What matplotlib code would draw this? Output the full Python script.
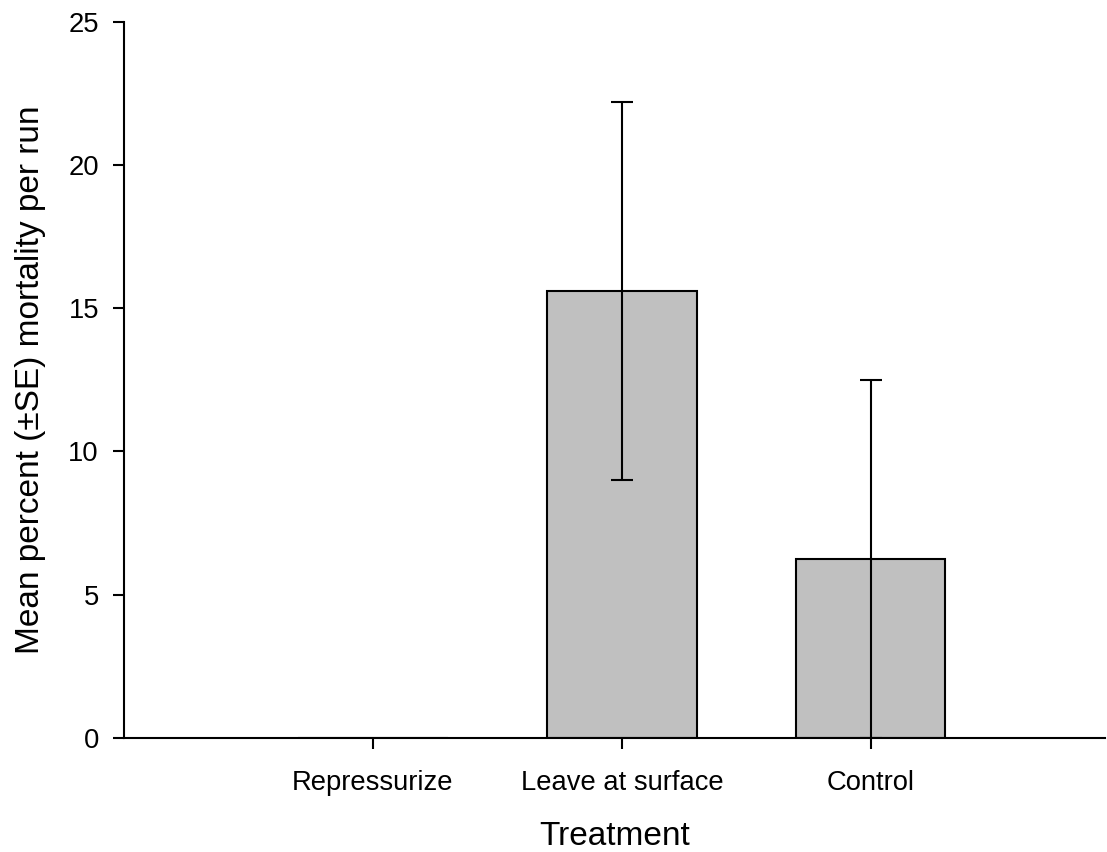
import matplotlib
matplotlib.use("Agg")
import matplotlib.pyplot as plt

plt.rcParams['font.family'] = ['Liberation Sans', 'DejaVu Sans']

treatments = ['Repressurize', 'Leave at surface', 'Control']
mean_mortality = [0.0, 15.6, 6.25]
se_mortality = [0.0, 6.6, 6.25]
positions = [1, 2, 3]

fig = plt.figure(figsize=(11.07, 8.52), dpi=100)
ax = fig.add_axes([0.112, 0.1338, 0.886, 0.8407])

ax.bar(positions, mean_mortality, width=0.6, color='#c0c0c0', edgecolor='black', linewidth=1.5)
# no error bar on the zero bar
ax.errorbar(positions[1:], mean_mortality[1:], yerr=se_mortality[1:], fmt='none',
            ecolor='black', elinewidth=1.5, capsize=8, capthick=1.5)

ax.set_xlim(0, 3.94)
ax.set_ylim(0, 25)
ax.set_xticks(positions)
ax.set_xticklabels(treatments)
ax.set_yticks([0, 5, 10, 15, 20, 25])

for side in ['top', 'right']:
    ax.spines[side].set_visible(False)
for side in ['left', 'bottom']:
    ax.spines[side].set_linewidth(1.5)

ax.tick_params(axis='x', direction='out', length=8, width=1.5, labelsize=19.7, pad=15)
ax.tick_params(axis='y', direction='out', length=8, width=1.5, labelsize=19.7, pad=10)

ax.set_xlabel('Treatment', fontsize=24, labelpad=18)
ax.set_ylabel('Mean percent (±SE) mortality per run', fontsize=24, labelpad=16)

fig.savefig('out.png', dpi=100)
